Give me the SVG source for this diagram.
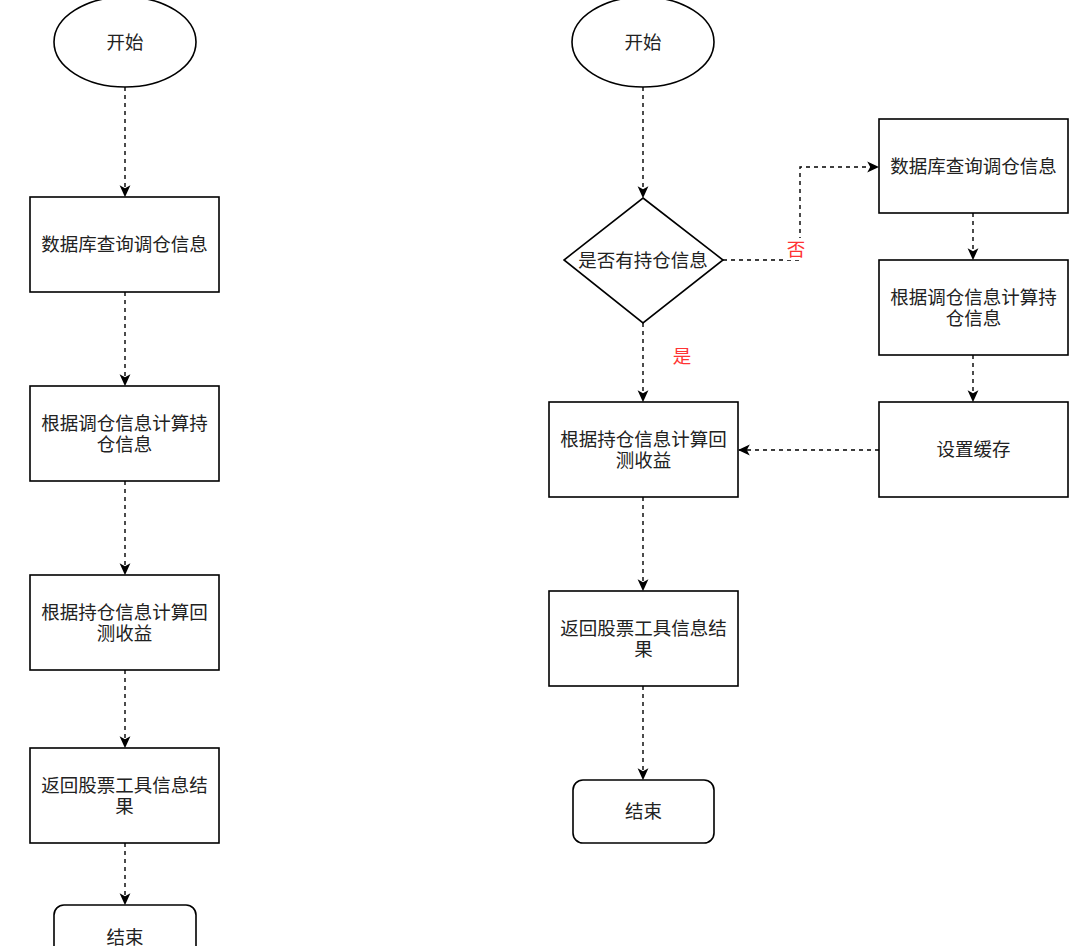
<svg xmlns="http://www.w3.org/2000/svg" width="1078" height="946" viewBox="0 0 1078 946">
<defs>
<marker id="arr" viewBox="0 0 10 10" refX="9" refY="5" markerWidth="12" markerHeight="12" markerUnits="userSpaceOnUse" orient="auto">
<path d="M0,0.5 L10,5 L0,9.5 L2.5,5 Z" fill="#000"/>
</marker>
<style>
.n{fill:#fff;stroke:#000;stroke-width:1.6}
.t{font-family:"Liberation Sans","Noto Sans CJK SC",sans-serif;font-size:18.5px;fill:#222;text-anchor:middle;dominant-baseline:central}
.r{font-family:"Liberation Sans","Noto Sans CJK SC",sans-serif;font-size:18.5px;fill:#ff3333;text-anchor:middle;dominant-baseline:central}
.c{fill:none;stroke:#000;stroke-width:1.4;stroke-dasharray:4 4;marker-end:url(#arr)}
</style>
</defs>
<rect width="1078" height="946" fill="#fff"/>
<g id="connectors">
<path class="c" d="M125,87 V196"/>
<path class="c" d="M125,292 V385"/>
<path class="c" d="M125,481 V574"/>
<path class="c" d="M125,670 V747"/>
<path class="c" d="M125,843 V904"/>
<path class="c" d="M643,87 V197"/>
<path class="c" d="M643,323 V401"/>
<path class="c" d="M723,260 H800 V167 H878"/>
<path class="c" d="M973,213 V259"/>
<path class="c" d="M973,355 V401"/>
<path class="c" d="M879,450 H739"/>
<path class="c" d="M643,497 V590"/>
<path class="c" d="M643,686 V779"/>
<rect x="786" y="238" width="20" height="22" fill="#fff"/>
<text class="r" x="796" y="249">否</text>
<text class="r" x="682" y="356">是</text>
</g>
<g id="l-start"><ellipse class="n" cx="125" cy="42" rx="71" ry="45"/><text class="t" x="125" y="42">开始</text></g>
<g id="l-db"><rect class="n" x="30" y="197" width="189" height="95"/><text class="t" x="124.5" y="244.5">数据库查询调仓信息</text></g>
<g id="l-calc"><rect class="n" x="30" y="386" width="189" height="95"/><text class="t" x="124.5" y="423">根据调仓信息计算持</text><text class="t" x="124.5" y="444">仓信息</text></g>
<g id="l-back"><rect class="n" x="30" y="575" width="189" height="95"/><text class="t" x="124.5" y="612">根据持仓信息计算回</text><text class="t" x="124.5" y="633">测收益</text></g>
<g id="l-ret"><rect class="n" x="30" y="748" width="189" height="95"/><text class="t" x="124.5" y="785">返回股票工具信息结</text><text class="t" x="124.5" y="806">果</text></g>
<g id="l-end"><rect class="n" x="54" y="905" width="142" height="63" rx="10"/><text class="t" x="125" y="937">结束</text></g>
<g id="r-start"><ellipse class="n" cx="643" cy="42" rx="71" ry="45"/><text class="t" x="643" y="42">开始</text></g>
<g id="r-dec"><path class="n" d="M643,198 L723,260 L643,323 L564,260 Z"/><text class="t" x="643" y="260">是否有持仓信息</text></g>
<g id="r-back"><rect class="n" x="549" y="402" width="189" height="95"/><text class="t" x="643.5" y="439">根据持仓信息计算回</text><text class="t" x="643.5" y="460">测收益</text></g>
<g id="r-ret"><rect class="n" x="549" y="591" width="189" height="95"/><text class="t" x="643.5" y="628">返回股票工具信息结</text><text class="t" x="643.5" y="649">果</text></g>
<g id="r-end"><rect class="n" x="573" y="780" width="141" height="63" rx="10"/><text class="t" x="643.5" y="811.5">结束</text></g>
<g id="r-db"><rect class="n" x="879" y="119" width="189" height="94"/><text class="t" x="973.5" y="166">数据库查询调仓信息</text></g>
<g id="r-calc"><rect class="n" x="879" y="260" width="189" height="95"/><text class="t" x="973.5" y="297">根据调仓信息计算持</text><text class="t" x="973.5" y="318">仓信息</text></g>
<g id="r-cache"><rect class="n" x="879" y="402" width="189" height="95"/><text class="t" x="973.5" y="449.5">设置缓存</text></g>
</svg>
